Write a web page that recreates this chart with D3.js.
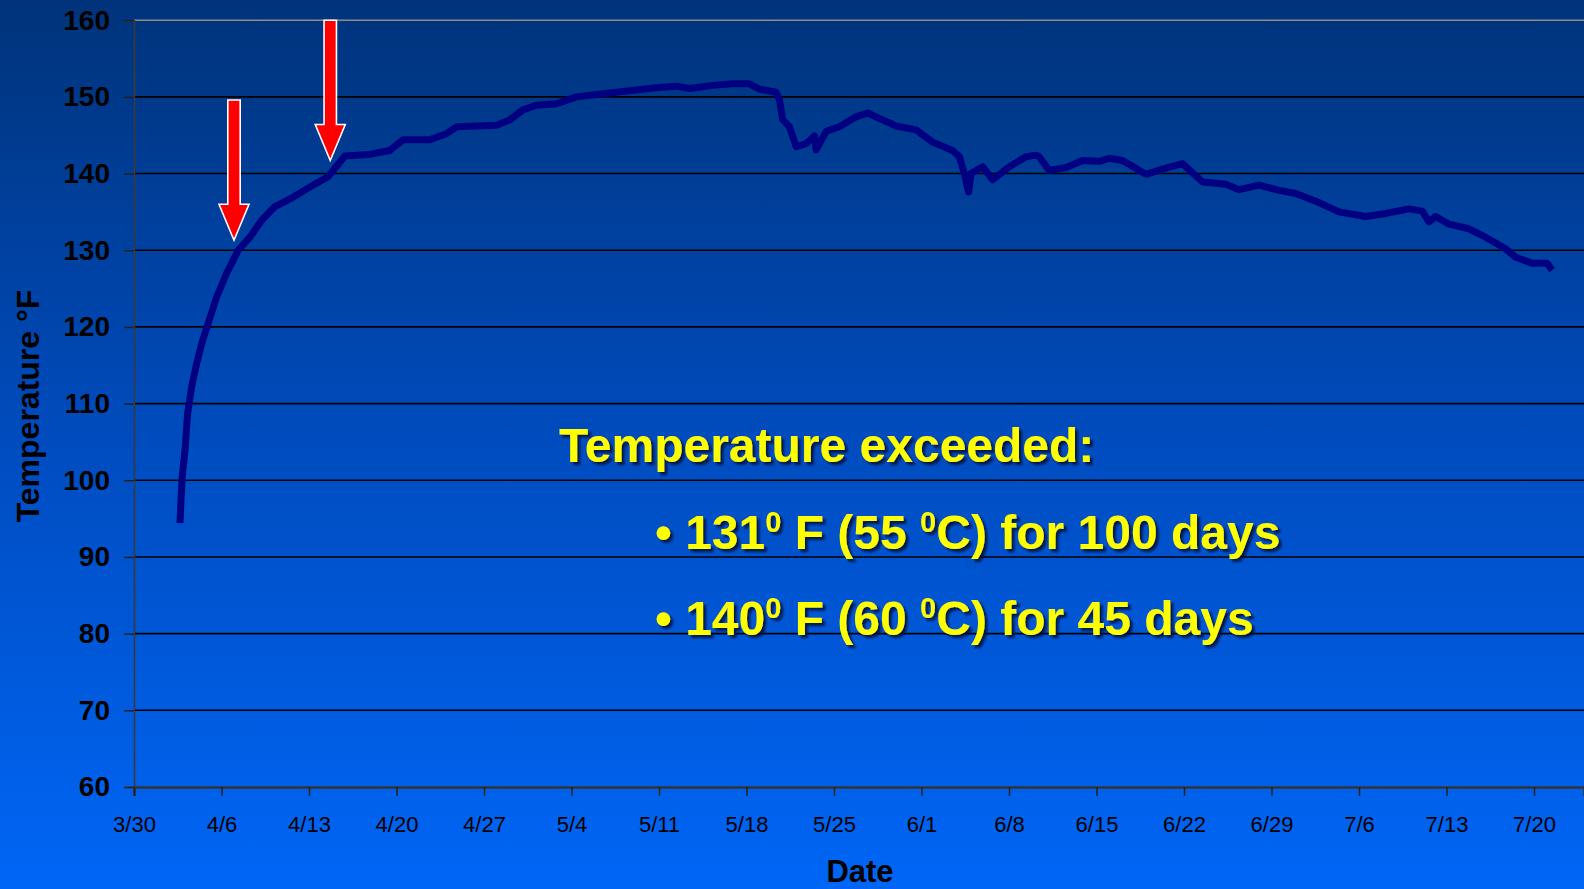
<!DOCTYPE html>
<html>
<head>
<meta charset="utf-8">
<script src="https://cdn.jsdelivr.net/npm/d3@7"></script>
<style>
  html, body { margin: 0; padding: 0; overflow: hidden; }
  body { width: 1584px; height: 889px; font-family: "Liberation Sans", Arial, sans-serif; }
</style>
</head>
<body>
<div id="chart"></div>
<script>
// series: days since 3/30 and probe temperature (°F)
const dayOffsets = [3.68, 3.76, 3.86, 4.08, 4.29, 4.61, 5.01, 5.41, 5.94, 6.61, 7.41, 8.34, 9.27, 10.21, 11.27, 12.61, 13.93, 15.53, 16.07, 16.87,
  18.86, 20.46, 21.53, 23.66, 25.0, 25.8, 29.0, 30.06, 31.12, 32.19, 33.79, 35.39, 37.51, 39.65, 41.78, 43.38, 44.44, 46.31, 47.91, 49.24,
  50.04, 51.37, 51.64, 51.9, 52.44, 52.97, 53.77, 54.44, 54.57, 55.37, 56.43, 57.77, 58.7, 59.63, 60.97, 62.57, 63.89, 65.49, 66.03, 66.43,
  66.77, 66.96, 67.89, 68.69, 70.02, 71.36, 72.16, 72.42, 73.22, 74.56, 75.88, 77.22, 78.02, 79.08, 80.95, 82.55, 83.88, 85.48, 87.35, 88.41,
  90.01, 91.61, 92.94, 94.54, 96.4, 98.54, 100.14, 102.0, 103.06, 103.6, 104.13, 105.2, 106.79, 108.13, 109.72, 110.52, 111.85, 113.05, 113.45];
const tempF = [94.4, 97.4, 100.5, 103.9, 108.7, 112.2, 115.2, 117.8, 120.5, 123.9, 127.0, 130.0, 131.7, 133.9, 135.7, 136.8, 138.1, 139.6, 140.7, 142.3,
  142.5, 143.0, 144.4, 144.4, 145.2, 146.1, 146.3, 147.0, 148.3, 148.9, 149.1, 150.0, 150.4, 150.8, 151.2, 151.4, 151.1, 151.5, 151.7, 151.7,
  151.0, 150.6, 149.6, 147.0, 146.1, 143.5, 143.9, 144.9, 143.1, 145.5, 146.1, 147.4, 147.9, 147.2, 146.2, 145.7, 144.1, 143.0, 142.2, 140.0,
  137.6, 140.0, 140.9, 139.2, 140.9, 142.2, 142.4, 142.2, 140.4, 140.8, 141.7, 141.6, 142.0, 141.7, 139.9, 140.7, 141.3, 138.9, 138.6, 137.9,
  138.5, 137.8, 137.4, 136.4, 135.0, 134.4, 134.8, 135.4, 135.1, 133.7, 134.4, 133.4, 132.8, 131.7, 130.2, 129.1, 128.3, 128.3, 127.4];

const xTickLabels = ["3/30", "4/6", "4/13", "4/20", "4/27", "5/4", "5/11", "5/18", "5/25", "6/1", "6/8", "6/15", "6/22", "6/29", "7/6", "7/13", "7/20"];
const yTicks = [60, 70, 80, 90, 100, 110, 120, 130, 140, 150, 160];

// red arrows: where the 131 and 140 °F thresholds were passed
const arrowDays = [8.0, 15.7];
const arrowTipTemp = [131.3, 141.7];
const arrowTailTemp = [149.6, 160];

const noteTitle = "Temperature exceeded:";
const noteLines = [
  ["131", "0", " F (55 ", "0", "C) for 100 days"],
  ["140", "0", " F (60 ", "0", "C) for 45 days"]
];

const W = 1584, H = 889;
const parseDate = d3.utcParse("%m/%d/%Y");
const start = parseDate("3/30/2010");
const end = parseDate("7/24/2010");
const toDate = d => new Date(start.getTime() + d * 864e5);

const series = dayOffsets.map((d, i) => ({ date: toDate(d), t: tempF[i] }));
const tickDates = xTickLabels.map(s => parseDate(s + "/2010"));

const x = d3.scaleUtc().domain([start, end]).range([134, 1584]);
const y = d3.scaleLinear().domain([60, 160]).range([787, 20.2]);

const svg = d3.select("#chart").append("svg")
  .attr("width", W).attr("height", H)
  .style("display", "block");

const defs = svg.append("defs");
const grad = defs.append("linearGradient")
  .attr("id", "bg").attr("x1", 0).attr("y1", 0).attr("x2", 0).attr("y2", 1);
grad.append("stop").attr("offset", "0%").attr("stop-color", "#00337a");
grad.append("stop").attr("offset", "50%").attr("stop-color", "#004cbf");
grad.append("stop").attr("offset", "100%").attr("stop-color", "#0066f6");

const shadow = defs.append("filter").attr("id", "shadow")
  .attr("x", "-5%").attr("y", "-20%").attr("width", "115%").attr("height", "150%");
shadow.append("feDropShadow")
  .attr("dx", 3).attr("dy", 3).attr("stdDeviation", 1.2)
  .attr("flood-color", "#00103a").attr("flood-opacity", 0.85);

svg.append("rect").attr("width", W).attr("height", H).attr("fill", "url(#bg)");

// gridlines
svg.append("g")
  .selectAll("line")
  .data(yTicks.filter(v => v > 60))
  .join("line")
  .attr("x1", 134).attr("x2", W)
  .attr("y1", d => y(d)).attr("y2", d => y(d))
  .attr("stroke", d => d === 160 ? "#8c8c8c" : "#000")
  .attr("stroke-width", 1.6);

// y axis
const yAxis = svg.append("g")
  .attr("transform", "translate(134,0)")
  .call(d3.axisLeft(y).tickValues(yTicks).tickSize(10).tickPadding(14));
yAxis.select(".domain").attr("stroke", "#3a3a3a").attr("stroke-width", 1.6);
yAxis.selectAll(".tick line").attr("stroke", "#222").attr("stroke-width", 1.5);
yAxis.selectAll(".tick text")
  .attr("fill", "#000")
  .style("font-family", "'Liberation Sans', Arial, sans-serif")
  .style("font-size", "28px")
  .style("font-weight", "bold");

// x axis
const xAxis = svg.append("g")
  .attr("transform", "translate(0,787)")
  .call(d3.axisBottom(x).tickValues(tickDates).tickFormat((d, i) => xTickLabels[i]).tickSize(9).tickPadding(20));
xAxis.select(".domain").attr("stroke", "#333").attr("stroke-width", 2.6);
xAxis.selectAll(".tick line").attr("stroke", "#222").attr("stroke-width", 1.5);
xAxis.selectAll(".tick text")
  .attr("fill", "#000")
  .style("font-family", "'Liberation Sans', Arial, sans-serif")
  .style("font-size", "22px");

// axis titles
svg.append("text")
  .attr("transform", "translate(39,406) rotate(-90)")
  .attr("text-anchor", "middle")
  .style("font-size", "32px").style("font-weight", "bold")
  .attr("fill", "#000")
  .text("Temperature °F");

svg.append("text")
  .attr("x", 860).attr("y", 882)
  .attr("text-anchor", "middle")
  .style("font-size", "31px").style("font-weight", "bold")
  .attr("fill", "#000")
  .text("Date");

// temperature line
const line = d3.line().x(d => x(d.date)).y(d => y(d.t));
svg.append("path")
  .datum(series)
  .attr("d", line)
  .attr("fill", "none")
  .attr("stroke", "#000080")
  .attr("stroke-width", 7)
  .attr("stroke-linejoin", "round");

// arrows
const arrows = arrowDays.map((d, i) => ({ date: toDate(d), tip: arrowTipTemp[i], tail: arrowTailTemp[i] }));
svg.append("g")
  .selectAll("path")
  .data(arrows)
  .join("path")
  .attr("d", a => {
    const cx = x(a.date), ty = y(a.tip), top = y(a.tail);
    const hw = 6.2, hh = 15, hl = 36;
    return `M${cx - hw},${top} L${cx + hw},${top} L${cx + hw},${ty - hl} L${cx + hh},${ty - hl} L${cx},${ty} L${cx - hh},${ty - hl} L${cx - hw},${ty - hl} Z`;
  })
  .attr("fill", "#ff0000")
  .attr("stroke", "#fff")
  .attr("stroke-width", 1.6);

// annotation
const note = svg.append("g")
  .attr("filter", "url(#shadow)")
  .style("font-family", "'Liberation Sans', Arial, sans-serif")
  .style("font-weight", "bold")
  .attr("fill", "#ffff00");

note.append("text")
  .attr("x", 559).attr("y", 462)
  .style("font-size", "48px")
  .text(noteTitle);

noteLines.forEach((parts, i) => {
  const t = note.append("text")
    .attr("x", 655).attr("y", 549 + i * 86)
    .style("font-size", "48px");
  t.append("tspan").text("\u2022 ");
  parts.forEach((p, j) => {
    const sup = j % 2 === 1;
    t.append("tspan")
      .attr("dy", sup ? -17 : (j > 0 ? 17 : 0))
      .style("font-size", sup ? "29px" : "48px")
      .text(p);
  });
});
</script>
</body>
</html>
